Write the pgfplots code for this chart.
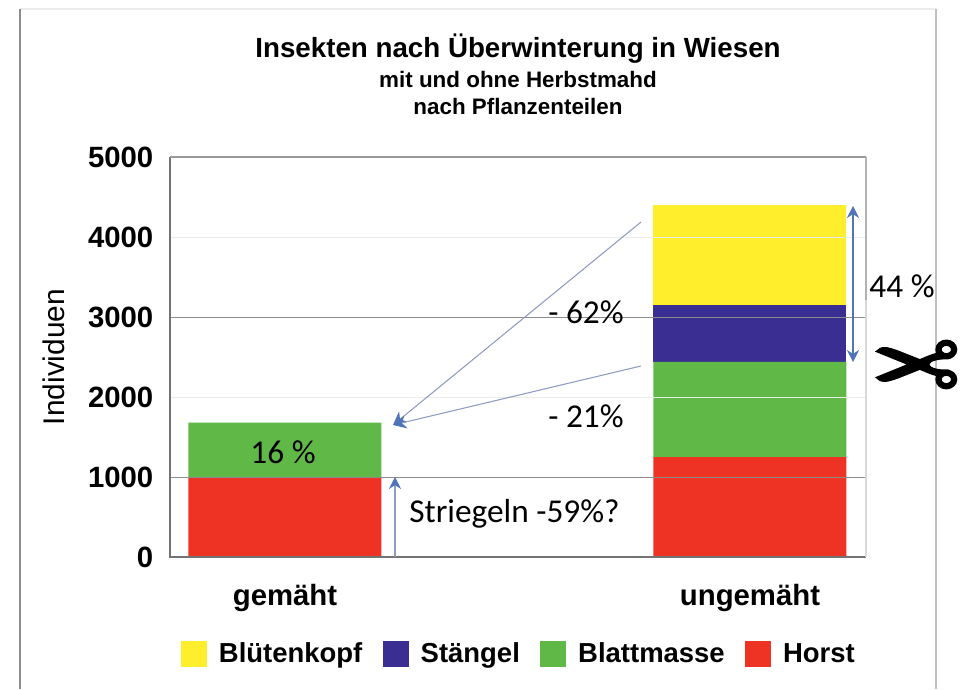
\documentclass[border=0pt]{standalone}
\usepackage{pgfplots}
\pgfplotsset{compat=1.18}
\usetikzlibrary{arrows.meta}
\usepackage{fontspec}
\setmainfont{Liberation Sans}
\newfontfamily\calfont{Carlito}
\newfontfamily\djfont[FakeBold=2]{DejaVu Sans}
\definecolor{cY}{HTML}{FFEE2C}
\definecolor{cB}{HTML}{3A2E93}
\definecolor{cG}{HTML}{60B947}
\definecolor{cR}{HTML}{EE3324}
\definecolor{cA}{HTML}{4F74B8}
\definecolor{cL}{HTML}{8E9CC4}
\newcommand{\fs}[1]{\fontsize{#1}{#1}\selectfont}
\begin{document}
\begin{tikzpicture}[x=0.75pt,y=-0.75pt]
\path (0,0) rectangle (964,689);
\draw[black!8,line width=0.8pt] (20,9) -- (936,9);
\draw[black!45,line width=0.8pt] (20,9) -- (20,688.5);
\draw[black!25,line width=0.8pt] (936,9) -- (936,688.5);
\begin{axis}[
  at={(127.5pt,-417.75pt)}, anchor=south west,
  scale only axis, width=522pt, height=300pt,
  xmin=-0.2473, xmax=1.2495, ymin=0, ymax=5000,
  ybar stacked, bar width=144.75pt,
  xtick={0,1}, xticklabels={gemäht,ungemäht},
  ytick={0,1000,...,5000},
  tick style={draw=none},
  /pgf/number format/assume math mode=true,
  /pgf/number format/set thousands separator={},
  yticklabel style={font=\fs{22}\bfseries, xshift=-9pt},
  xticklabel style={font=\fs{22}\bfseries, yshift=-17pt},
  ylabel={Individuen}, ylabel style={font=\fs{22.4}, at={(axis description cs:-0.145,0.5)}, anchor=south},
  axis line style={draw=none},
  clip=false,
  legend columns=4, reverse legend,
  legend style={draw=none, fill=none, at={(5pt,-60pt)}, anchor=north west,
    font=\fs{20.6}\bfseries,
    /tikz/every odd column/.append style={column sep=7pt},
    /tikz/every even column/.append style={column sep=13.25pt}},
  legend image code/.code={\fill[#1] (0pt,-9.75pt) rectangle (19.5pt,9.75pt);},
]
\draw[black!45,line width=0.6pt] (axis cs:-0.2473,1000) -- (axis cs:1.2495,1000);
\draw[black!45,line width=0.6pt] (axis cs:-0.2473,3000) -- (axis cs:1.2495,3000);
\draw[black!8,line width=0.6pt] (axis cs:-0.2473,2000) -- (axis cs:1.2495,2000);
\draw[black!8,line width=0.6pt] (axis cs:-0.2473,4000) -- (axis cs:1.2495,4000);
\addplot[fill=cR,draw=none] coordinates {(0,1000) (1,1250)};
\addplot[fill=cG,draw=none] coordinates {(0,680) (1,1190)};
\addplot[fill=cB,draw=none] coordinates {(0,0) (1,710)};
\addplot[fill=cY,draw=none] coordinates {(0,0) (1,1250)};
\legend{Horst,Blattmasse,Stängel,Blütenkopf}
\end{axis}
% frame
\draw[black!55,line width=1.2pt] (170,157) -- (170,557) -- (866,557);
\draw[black!40,line width=0.8pt] (170,157) -- (866,157);
\draw[black!30,line width=0.8pt] (866,157) -- (866,300);
\draw[black!15,line width=0.8pt] (866,300) -- (866,557);
% titles
\node at (518,49) {\fs{20.8}\bfseries Insekten nach Überwinterung in Wiesen};
\node at (518,79) {\fs{16.8}\bfseries mit und ohne Herbstmahd};
\node at (518,106) {\fs{16.8}\bfseries nach Pflanzenteilen};
% annotations
\draw[cL,line width=0.8pt,-{Stealth[cA,length=10pt,width=10pt]}] (641,222) -- (393,425);
\draw[cL,line width=0.8pt,-{Stealth[cA,length=10pt,width=10pt]}] (641,366) -- (393,425);
\draw[cA,line width=0.8pt,{Stealth[length=9pt,width=9pt]}-{Stealth[length=9pt,width=9pt]}] (853,206) -- (853,362);
\draw[cL,line width=0.8pt,-{Stealth[cA,length=9pt,width=9pt]}] (395,557) -- (395,477);
\node at (586,312) {\calfont\fs{25}- 62\%};
\node at (586,416) {\calfont\fs{25}- 21\%};
\node at (283,452) {\calfont\fs{25}16 \%};
\node at (902,286) {\calfont\fs{25}44 \%};
\node[anchor=west] at (404.6,514) {\calfont\fs{25}Striegeln -59\%?};
\node[inner sep=0pt,overlay] at (916,372) {\djfont\fs{80}\scalebox{-1}[1]{✂}};
\end{tikzpicture}
\end{document}
